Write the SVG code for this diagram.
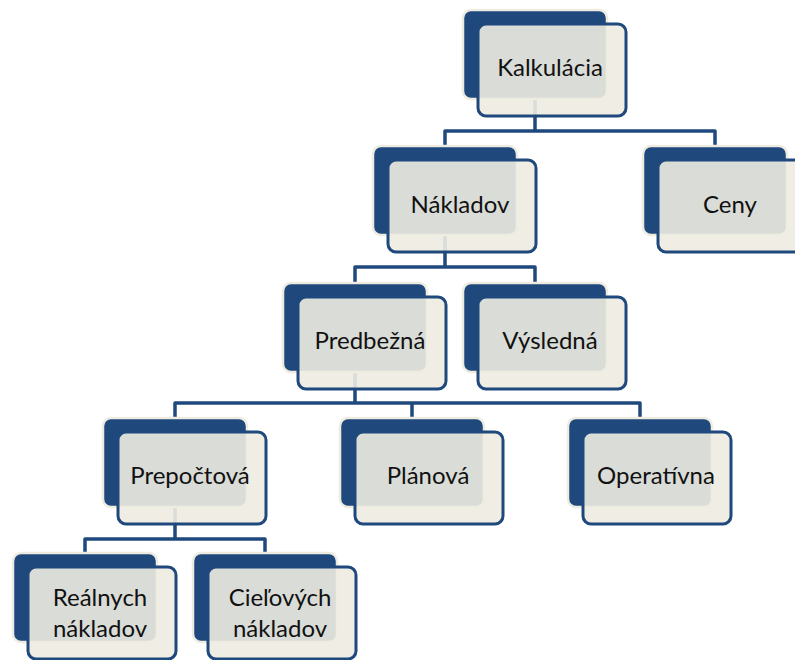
<svg xmlns="http://www.w3.org/2000/svg" width="795" height="660" viewBox="0 0 795 660">
<style>
.conn{fill:none;stroke:#1F497D;stroke-width:3.5;stroke-linejoin:round}
.back{fill:#1F497D;stroke:#EEECE1;stroke-width:2.5}
.front{fill:#EEECE1;fill-opacity:0.9;stroke:#1F497D;stroke-width:3}
.lbl{font-family:Lato,"Liberation Sans",sans-serif;font-size:24px;fill:#111;text-anchor:middle}
</style>
<rect width="795" height="660" fill="#fff"/>
<g id="connectors">
<path class="conn" d="M535 99 V131"/>
<path class="conn" d="M445 146 V131 H715 V146"/>
<path class="conn" d="M445 235 V267"/>
<path class="conn" d="M355 283 V267 H535 V283"/>
<path class="conn" d="M355 372 V403"/>
<path class="conn" d="M175 418 V403 H640 V418"/>
<path class="conn" d="M412 403 V418"/>
<path class="conn" d="M175 507 V539"/>
<path class="conn" d="M85 553 V539 H265 V553"/>
</g>
<g id="kalkulacia">
<rect class="back" x="463" y="10" width="144" height="89" rx="8"/>
<rect class="front" x="478" y="24" width="148" height="92" rx="8"/>
<text class="lbl" x="550" y="76">Kalkulácia</text>
</g>
<g id="nakladov">
<rect class="back" x="373" y="146" width="144" height="89" rx="8"/>
<rect class="front" x="388" y="160" width="148" height="92" rx="8"/>
<text class="lbl" x="460" y="213">Nákladov</text>
</g>
<g id="ceny">
<rect class="back" x="643" y="146" width="144" height="89" rx="8"/>
<rect class="front" x="658" y="160" width="148" height="92" rx="8"/>
<text class="lbl" x="730" y="213">Ceny</text>
</g>
<g id="predbezna">
<rect class="back" x="283" y="283" width="144" height="89" rx="8"/>
<rect class="front" x="298" y="297" width="148" height="92" rx="8"/>
<text class="lbl" x="370" y="349">Predbežná</text>
</g>
<g id="vysledna">
<rect class="back" x="463" y="283" width="144" height="89" rx="8"/>
<rect class="front" x="478" y="297" width="148" height="92" rx="8"/>
<text class="lbl" x="550" y="349">Výsledná</text>
</g>
<g id="prepoctova">
<rect class="back" x="103" y="418" width="144" height="89" rx="8"/>
<rect class="front" x="118" y="432" width="148" height="92" rx="8"/>
<text class="lbl" x="190" y="484">Prepočtová</text>
</g>
<g id="planova">
<rect class="back" x="340" y="418" width="144" height="89" rx="8"/>
<rect class="front" x="355" y="432" width="148" height="92" rx="8"/>
<text class="lbl" x="428" y="484">Plánová</text>
</g>
<g id="operativna">
<rect class="back" x="568" y="418" width="144" height="89" rx="8"/>
<rect class="front" x="583" y="432" width="148" height="92" rx="8"/>
<text class="lbl" x="656" y="484">Operatívna</text>
</g>
<g id="realnych">
<rect class="back" x="13" y="553" width="144" height="89" rx="8"/>
<rect class="front" x="28" y="567" width="148" height="92" rx="8"/>
<text class="lbl" x="100" y="606">Reálnych</text>
<text class="lbl" x="100" y="637">nákladov</text>
</g>
<g id="cielovych">
<rect class="back" x="193" y="553" width="144" height="89" rx="8"/>
<rect class="front" x="208" y="567" width="148" height="92" rx="8"/>
<text class="lbl" x="280" y="606">Cieľových</text>
<text class="lbl" x="280" y="637">nákladov</text>
</g>
</svg>
